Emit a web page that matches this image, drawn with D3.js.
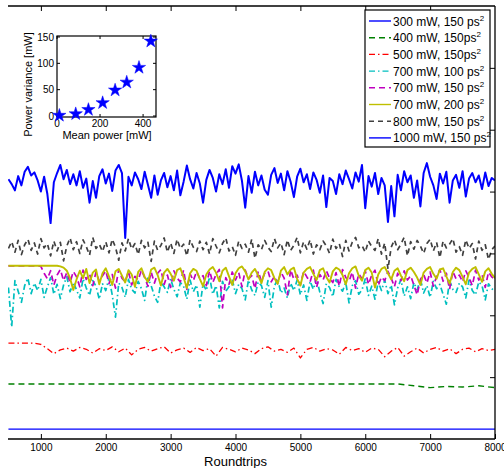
<!DOCTYPE html>
<html>
<head>
<meta charset="utf-8">
<script src="https://cdn.jsdelivr.net/npm/d3@7"></script>
<style>
  body { margin: 0; background: #fff; }
  svg { display: block; font-family: "Liberation Sans", Arial, sans-serif; }
</style>
</head>
<body>
<svg id="chart" width="504" height="468"></svg>
<script>
// Sampling grids (roundtrip number)
const rt50  = d3.range(500, 8001, 50);
const rt100 = d3.range(500, 8001, 100);
const rt250 = d3.range(500, 8001, 250);
const rtFlat = [500, 8000];

// Trace levels (arbitrary, vertically offset power scale 0–70)
const p300_150 = [1.6, 1.6];

const p400_150 = [
  8.9, 8.9, 8.9, 8.9, 8.9, 8.9, 8.9, 8.9, 8.9, 8.9,
  8.9, 8.9, 8.9, 8.9, 8.9, 8.9, 8.9, 8.9, 8.9, 8.9,
  8.9, 8.9, 8.9, 8.9, 8.9, 8.6, 8.3, 8.5, 8.4, 8.6, 8.3
];

const p500_150 = [
  15.5, 15.5, 15.5, 15.5, 15.5, 15.3, 14.6, 13.8, 14.4, 14.7,
  14.2, 14.8, 14.5, 13.9, 14.6, 14.3, 14.9, 14.1, 14.7, 13.6,
  14.5, 14.8, 14.2, 14.6, 14.9, 13.9, 14.4, 14.7, 14.0, 14.8,
  14.3, 14.6, 13.4, 14.8, 14.5, 14.1, 14.7, 14.4, 13.8, 14.6,
  14.9, 14.2, 14.5, 14.0, 14.7, 13.1, 14.5, 14.8, 14.2, 14.6,
  14.4, 13.7, 14.8, 14.3, 14.6, 14.0, 14.7, 14.5, 13.3, 14.2,
  14.8, 13.4, 14.1, 14.7, 13.9, 14.5, 14.8, 14.2, 14.6, 13.8,
  14.5, 14.7, 14.1, 14.6, 14.3, 14.5
];

const p700_100 = [
  24.5, 18.1, 25.6, 23.9, 22.1, 24.8, 26.0, 23.5, 25.2, 24.0,
  25.8, 22.9, 24.6, 26.1, 23.4, 25.0, 22.7, 24.9, 26.2, 23.8,
  25.3, 24.1, 22.8, 25.9, 24.4, 23.2, 25.6, 24.7, 22.6, 25.1,
  24.0, 26.0, 23.3, 19.7, 25.2, 24.5, 22.9, 25.8, 24.2, 23.6,
  25.5, 24.3, 22.4, 26.0, 24.8, 23.1, 22.1, 25.4, 24.6, 23.7,
  25.9, 24.2, 23.0, 25.3, 24.7, 22.6, 25.7, 23.8, 24.9, 21.3,
  25.1, 24.0, 26.2, 23.4, 24.8, 21.2, 25.5, 23.9, 24.6, 25.8,
  23.5, 25.0, 24.3, 22.5, 25.7, 24.1, 23.2, 25.4, 24.8, 22.9,
  25.6, 21.3, 24.7, 25.9, 23.6, 24.4, 22.8, 25.2, 24.0, 25.7,
  23.3, 24.9, 22.4, 25.5, 24.2, 26.0, 23.7, 21.9, 25.1, 24.5,
  23.0, 25.8, 24.6, 23.9, 25.3, 22.0, 24.8, 25.6, 23.4, 24.1,
  25.9, 23.2, 24.7, 22.6, 25.4, 24.0, 25.7, 23.5, 24.9, 21.7,
  24.4, 25.8, 23.1, 24.6, 22.7, 25.3, 24.1, 25.9, 23.6, 24.8,
  22.9, 25.5, 24.3, 25.0, 23.4, 21.8, 25.6, 24.2, 23.7, 25.2,
  24.6, 22.8, 25.7, 24.0, 23.3, 25.4, 24.8, 22.5, 25.1, 24.3, 23.9
];

const p700_150 = [
  28.0, 28.0, 28.0, 28.0, 28.0, 28.0, 28.0, 28.0, 28.0, 28.0,
  27.9, 26.8, 25.9, 27.2, 24.9, 26.5, 27.4, 25.6, 26.9, 25.3,
  27.1, 26.2, 24.6, 27.3, 25.8, 26.7, 24.8, 27.0, 25.5, 26.4,
  27.2, 25.1, 26.6, 24.4, 27.4, 26.0, 25.4, 27.1, 24.9, 26.3,
  25.7, 27.3, 26.1, 24.7, 27.0, 25.2, 26.8, 27.4, 25.0, 26.5,
  24.5, 27.2, 26.0, 25.4, 27.3, 24.2, 26.7, 25.6, 27.1, 25.9,
  26.4, 24.8, 27.2, 25.3, 26.6, 27.4, 21.2, 26.1, 25.0, 27.0,
  25.7, 26.9, 24.6, 27.3, 25.9, 26.4, 24.3, 27.1, 25.5, 26.8,
  27.2, 25.4, 26.3, 25.1, 27.0, 26.0, 23.3, 27.4, 25.8, 26.5,
  24.9, 27.1, 26.2, 25.4, 27.3, 24.5, 26.6, 25.7, 27.2, 26.0,
  25.3, 26.9, 24.7, 27.4, 26.1, 25.5, 27.0, 24.4, 26.7, 25.9,
  27.2, 25.0, 26.5, 27.3, 24.8, 26.2, 25.6, 27.1, 26.0, 24.6,
  26.8, 25.6, 27.2, 25.7, 26.4, 24.9, 23.3, 25.8, 26.6, 25.2,
  27.0, 24.7, 26.3, 27.4, 25.5, 26.8, 24.2, 27.1, 25.9, 26.5,
  25.4, 27.2, 26.1, 24.8, 27.3, 25.7, 26.6, 24.5, 27.0, 26.2, 25.8
];

const p700_200 = [
  28.0, 28.0, 28.0, 28.0, 28.0, 28.0, 28.0, 28.0, 28.0, 28.0,
  28.0, 28.0, 28.0, 28.0, 28.0, 28.0, 27.9, 27.7, 27.2, 26.0,
  24.1, 25.8, 27.2, 26.0, 27.5, 25.2, 26.9, 27.4, 25.0, 26.8,
  27.6, 26.3, 24.9, 27.1, 27.5, 26.4, 25.3, 27.3, 26.6, 24.6,
  27.0, 27.6, 26.2, 25.4, 27.4, 27.7, 26.5, 24.8, 26.9, 27.5,
  26.7, 25.6, 27.3, 27.6, 26.1, 24.4, 26.8, 27.5, 27.2, 25.9,
  24.7, 26.6, 27.4, 27.8, 26.9, 25.5, 27.2, 27.7, 26.3, 24.9,
  26.8, 27.6, 27.9, 27.1, 25.8, 26.9, 27.5, 26.4, 25.2, 27.0,
  27.6, 27.3, 26.0, 25.1, 27.2, 27.8, 26.6, 27.4, 27.7, 25.9,
  24.8, 26.9, 27.5, 27.8, 26.7, 25.7, 27.3, 27.6, 26.2, 25.3,
  27.1, 27.7, 27.4, 26.5, 25.0, 26.8, 27.6, 27.9, 26.4, 25.6,
  27.3, 27.7, 26.9, 24.5, 26.6, 27.5, 27.8, 26.8, 25.8, 27.2,
  27.6, 26.4, 25.5, 27.3, 27.7, 27.0, 26.1, 24.9, 26.9, 27.5,
  27.8, 26.7, 25.9, 27.4, 27.6, 26.3, 25.1, 27.0, 27.7, 27.3,
  26.2, 25.0, 26.9, 27.5, 27.8, 26.6, 25.4, 27.1, 27.6, 26.7, 26.0
];

const p800_150 = [
  30.8, 31.9, 30.2, 32.1, 29.8, 31.4, 32.3, 30.5, 31.7, 29.9,
  32.4, 30.9, 31.6, 29.6, 32.0, 30.4, 31.8, 28.8, 31.2, 32.5,
  30.6, 31.9, 30.0, 32.2, 31.1, 29.7, 32.6, 30.8, 31.5, 30.3,
  31.9, 30.1, 32.3, 31.0, 28.9, 31.7, 30.4, 32.4, 30.7, 31.6,
  29.8, 32.1, 30.9, 31.8, 28.7, 32.0, 30.5, 31.3, 32.5, 30.2,
  31.7, 30.0, 32.3, 30.8, 31.5, 29.6, 32.2, 31.0, 30.3, 32.0,
  30.6, 31.8, 29.9, 32.4, 31.2, 30.1, 31.6, 32.5, 30.4, 31.1,
  29.7, 32.0, 30.8, 31.5, 30.2, 32.3, 29.2, 31.4, 30.6, 32.1,
  31.0, 30.3, 32.4, 30.9, 31.7, 29.8, 32.2, 30.5, 31.3, 32.6,
  30.1, 31.9, 30.7, 32.2, 29.9, 31.4, 30.6, 32.0, 31.2, 30.0,
  32.3, 30.8, 31.6, 29.5, 32.1, 30.4, 31.8, 32.6, 30.9, 31.3,
  30.2, 32.0, 31.1, 30.5, 32.4, 29.9, 31.7, 27.5, 31.0, 32.2,
  30.6, 31.5, 32.6, 29.6, 31.9, 30.7, 32.1, 31.2, 30.0, 31.6,
  32.3, 30.4, 31.8, 29.3, 32.0, 30.9, 31.5, 32.4, 30.2, 31.1,
  29.7, 32.2, 30.8, 31.6, 29.1, 32.0, 30.5, 31.4, 29.0, 30.6, 31.2
];

const p1000_150 = [
  42.0, 41.2, 40.2, 42.5, 41.0, 43.2, 44.0, 42.6, 43.1, 41.8,
  40.0, 42.4, 39.6, 34.9, 41.5, 43.0, 44.3, 42.0, 43.5, 41.2,
  42.8, 41.0, 43.3, 40.6, 42.1, 38.2, 41.7, 39.0, 42.5, 43.6,
  41.3, 42.9, 40.1, 43.4, 44.3, 43.0, 32.5, 42.4, 41.0, 43.1,
  42.0, 40.4, 43.2, 41.1, 39.0, 42.6, 39.5, 41.8, 43.0, 40.7,
  42.5, 40.2, 43.4, 39.4, 41.6, 44.2, 42.0, 40.5, 43.0, 41.3,
  38.2, 41.9, 43.5, 42.2, 40.0, 42.8, 41.2, 43.6, 40.6, 44.1,
  42.9, 44.4, 41.7, 37.4, 42.5, 39.8, 43.2, 41.0, 42.6, 40.3,
  39.5, 42.7, 43.8, 41.4, 42.9, 40.2, 43.3, 41.6, 39.1, 42.4,
  43.7, 41.5, 42.8, 40.4, 43.1, 41.9, 39.8, 42.6, 37.5, 42.2,
  41.7, 39.6, 42.8, 41.2, 43.4, 42.0, 40.5, 43.1, 41.6, 44.3,
  37.3, 42.5, 40.8, 43.0, 39.6, 42.2, 41.0, 35.1, 40.9, 36.0,
  42.7, 40.2, 43.3, 41.5, 42.6, 39.0, 41.8, 37.6, 43.0, 44.6,
  42.4, 41.0, 38.8, 42.9, 41.3, 43.2, 38.2, 41.8, 42.7, 40.6,
  43.3, 39.2, 42.1, 43.0, 41.5, 42.6, 40.4, 43.1, 40.9, 42.2, 41.8
];

const legendLabels = [
  "300 mW, 150 ps", "400 mW, 150ps", "500 mW, 150ps", "700 mW, 100 ps",
  "700 mW, 150 ps", "700 mW, 200 ps", "800 mW, 150 ps", "1000 mW, 150 ps"
];
const xTickValues = [1000, 2000, 3000, 4000, 5000, 6000, 7000, 8000];
const yTickValues = [10, 20, 30, 40, 50, 60];

// Inset: power variance against mean power
const insetMeanPower = [11, 87, 146, 212, 270, 324, 381, 436];
const insetVariance  = [1, 4, 12, 25, 49, 64, 92, 142];
const insetXTicks = [0, 200, 400];
const insetYTicks = [0, 50, 100, 150];

const series = [
  { label: legendLabels[0], x: rtFlat, y: p300_150, color: "#0000ff", dash: null,          w: 1.4 },
  { label: legendLabels[1], x: rt250,  y: p400_150, color: "#008000", dash: "6,4",         w: 1.4 },
  { label: legendLabels[2], x: rt100,  y: p500_150, color: "#ff0000", dash: "6,3,1.5,3",   w: 1.3 },
  { label: legendLabels[3], x: rt50,   y: p700_100, color: "#00bfbf", dash: "6,3,1.5,3",   w: 1.7 },
  { label: legendLabels[4], x: rt50,   y: p700_150, color: "#bf00bf", dash: "6,4",         w: 1.7 },
  { label: legendLabels[5], x: rt50,   y: p700_200, color: "#bfbf00", dash: null,          w: 1.9 },
  { label: legendLabels[6], x: rt50,   y: p800_150, color: "#404040", dash: "5,4",         w: 1.7 },
  { label: legendLabels[7], x: rt50,   y: p1000_150, color: "#0000ff", dash: null,         w: 2.0 }
];

const svg = d3.select("#chart");
const L = 8, R = 495, T = 6, B = 439;

const x = d3.scaleLinear().domain([0, 8000]).range([-24, R]);
const y = d3.scaleLinear().domain([0, 70]).range([B, T]);

svg.append("defs").append("clipPath").attr("id", "plotClip")
  .append("rect").attr("x", L).attr("y", T).attr("width", R - L).attr("height", B - T);

// Traces
const line = d3.line().x(d => x(d[0])).y(d => y(d[1]));
const traces = svg.append("g").attr("clip-path", "url(#plotClip)");
series.forEach(s => {
  traces.append("path")
    .datum(s.x.map((v, i) => [v, s.y[i]]))
    .attr("d", line)
    .attr("fill", "none")
    .attr("stroke", s.color)
    .attr("stroke-width", s.w)
    .attr("stroke-linejoin", "round")
    .attr("stroke-dasharray", s.dash);
});

// Axes frame
const frame = svg.append("g").attr("stroke", "#000").attr("stroke-width", 1.3);
frame.append("line").attr("x1", L).attr("x2", R).attr("y1", B).attr("y2", B);
frame.append("line").attr("x1", L).attr("x2", R).attr("y1", T).attr("y2", T);
frame.append("line").attr("x1", R).attr("x2", R).attr("y1", T).attr("y2", B);

const bottomAxis = svg.append("g").attr("transform", `translate(0,${B})`)
  .call(d3.axisBottom(x).tickValues(xTickValues).tickSize(-5).tickPadding(5).tickFormat(d3.format("d")));
const topAxis = svg.append("g").attr("transform", `translate(0,${T})`)
  .call(d3.axisTop(x).tickValues(xTickValues.slice(0, -1)).tickSize(-5).tickFormat(""));
const rightAxis = svg.append("g").attr("transform", `translate(${R},0)`)
  .call(d3.axisRight(y).tickValues(yTickValues).tickSize(-5).tickFormat(""));
[bottomAxis, topAxis, rightAxis].forEach(g => {
  g.select(".domain").remove();
  g.selectAll(".tick line").attr("stroke", "#000").attr("stroke-width", 1);
});
bottomAxis.selectAll("text").attr("font-size", 10).attr("fill", "#000")
  .attr("font-family", "Liberation Sans, Arial, sans-serif");

svg.append("text")
  .attr("x", (x.range()[0] + x.range()[1]) / 2).attr("y", 466)
  .attr("text-anchor", "middle").attr("font-size", 13)
  .text("Roundtrips");

// Legend
const lg = svg.append("g");
lg.append("rect").attr("x", 365).attr("y", 10).attr("width", 125).attr("height", 137)
  .attr("fill", "#fff").attr("stroke", "#000").attr("stroke-width", 1.2);
series.forEach((s, i) => {
  const ry = 21 + i * 16.7;
  lg.append("line").attr("x1", 369).attr("x2", 391).attr("y1", ry).attr("y2", ry)
    .attr("stroke", s.color).attr("stroke-width", 1.4).attr("stroke-dasharray", s.dash);
  const t = lg.append("text").attr("x", 393).attr("y", ry + 4.5).attr("font-size", 12);
  t.append("tspan").text(s.label);
  t.append("tspan").attr("font-size", 8).attr("dy", -5).text("2");
});

// Inset
const ix = d3.scaleLinear().domain([0, 460]).range([57, 156]);
const iy = d3.scaleLinear().domain([0, 150]).range([116, 37]);
const inset = svg.append("g");
inset.append("rect").attr("x", 57).attr("y", 36).attr("width", 99).attr("height", 81)
  .attr("fill", "#fff").attr("stroke", "#000").attr("stroke-width", 1.2);
insetXTicks.forEach(v => {
  inset.append("line").attr("x1", ix(v)).attr("x2", ix(v)).attr("y1", 117).attr("y2", 114).attr("stroke", "#000");
  inset.append("line").attr("x1", ix(v)).attr("x2", ix(v)).attr("y1", 36).attr("y2", 39).attr("stroke", "#000");
  inset.append("text").attr("x", ix(v)).attr("y", 126.5).attr("text-anchor", "middle")
    .attr("font-size", 10).text(v);
});
insetYTicks.forEach(v => {
  inset.append("line").attr("x1", 57).attr("x2", 60).attr("y1", iy(v)).attr("y2", iy(v)).attr("stroke", "#000");
  inset.append("line").attr("x1", 156).attr("x2", 153).attr("y1", iy(v)).attr("y2", iy(v)).attr("stroke", "#000");
  inset.append("text").attr("x", 54).attr("y", iy(v) + 3.6).attr("text-anchor", "end")
    .attr("font-size", 10).text(v);
});
inset.selectAll(".star")
  .data(insetMeanPower.map((m, i) => [m, insetVariance[i]]))
  .join("path")
  .attr("transform", d => `translate(${ix(d[0])},${iy(d[1])})`)
  .attr("d", d3.symbol().type(d3.symbolStar).size(55))
  .attr("fill", "#0000ff").attr("stroke", "#0000ff").attr("stroke-width", 0.5);
inset.append("text").attr("transform", "translate(32,84.5) rotate(-90)")
  .attr("text-anchor", "middle").attr("font-size", 11).text("Power variance [mW]");
inset.append("text").attr("x", 107).attr("y", 139).attr("text-anchor", "middle")
  .attr("font-size", 11).text("Mean power [mW]");
</script>
</body>
</html>
